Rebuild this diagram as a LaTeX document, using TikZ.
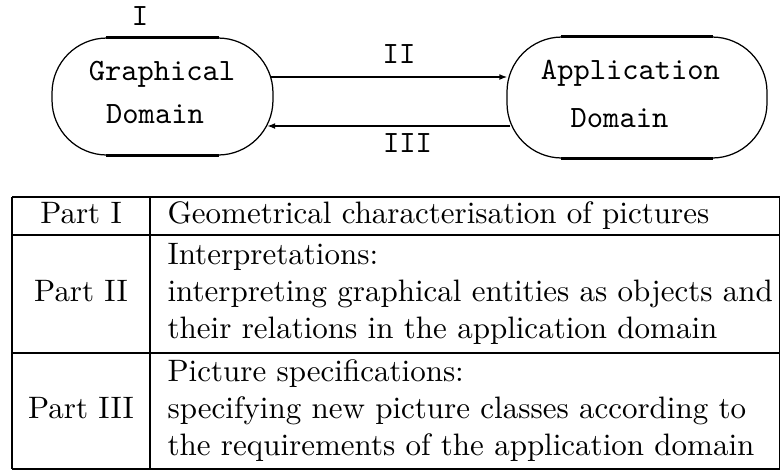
\documentclass[tikz,border=0pt]{standalone}
\usetikzlibrary{arrows.meta,calc}
\begin{document}
\begin{tikzpicture}[x=0.3226pt,y=-0.3226pt,
  domainbox/.style={draw, line width=0.4pt, rounded corners=17.74pt, inner sep=0pt},
  flatedge/.style={line width=0.75pt},
  ttlabel/.style={font=\ttfamily, inner sep=0pt, anchor=base},
  flow/.style={line width=0.45pt, -{Latex[length=2.6pt,width=1.9pt]}},
  rule/.style={line width=0.45pt},
  heavyrule/.style={line width=0.75pt},
  cell/.style={inner sep=0pt, anchor=base west},
  partcell/.style={inner sep=0pt, anchor=base}]
\useasboundingbox (0,0) rectangle (780,470);

% the two domains
\node[domainbox, minimum width=71.29pt, minimum height=37.74pt] (gbox) at (162.5,96.5) {};
\node[domainbox, minimum width=83.88pt, minimum height=39.03pt] (abox) at (637,97.5) {};
\foreach \b in {gbox,abox}{
  \draw[flatedge] ($(\b.north west)+(55,0)$) -- ($(\b.north east)+(-55,0)$);
  \draw[flatedge] ($(\b.south west)+(55,0)$) -- ($(\b.south east)+(-55,0)$);
}
\node[ttlabel] (gname1) at (162,80) {Graphical};
\node[ttlabel] (gname2) at (155,123) {Domain};
\node[ttlabel] (aname1) at (630.5,79) {Application};
\node[ttlabel] (aname2) at (619.5,127) {Domain};

% part numbers
\node[ttlabel] (lab1) at (140,25) {I};
\node[ttlabel] (lab2) at (399,63) {II};
\node[ttlabel] (lab3) at (407.5,152) {III};

% mappings between the domains
\draw[flow] ($(gbox.east)+(-2.4,-19.5)$) -- ($(abox.west)+(1,-20.5)$);
\draw[flow] ($(abox.west)+(4,28.5)$) -- ($(gbox.east)+(-6.5,29.5)$);

% table of parts
\draw[line width=0.55pt] (12,197) -- (780,197);
\draw[heavyrule] (12,235) -- (780,235);
\draw[rule] (12,353) -- (780,353);
\draw[rule] (12,469) -- (780,469);
\draw[rule] (12,197) -- (12,469);
\draw[rule] (150,197) -- (150,469);
\draw[rule] (779.6,197) -- (779.6,469);

\node[partcell] (p1) at (81,223.5) {Part I};
\node[cell] (d1) at (167,223.5) {Geometrical characterisation of pictures};

\node[partcell] (p2) at (81,301.5) {Part II};
\node[cell] (d2a) at (167,264.5) {Interpretations:};
\node[cell] (d2b) at (167,301.5) {interpreting graphical entities as objects and};
\node[cell] (d2c) at (167,338.5) {their relations in the application domain};

\node[partcell] (p3) at (81,418) {Part III};
\node[cell] (d3a) at (167,381) {Picture specifications:};
\node[cell] (d3b) at (167,418) {specifying new picture classes according to};
\node[cell] (d3c) at (167,455) {the requirements of the application domain};
\end{tikzpicture}
\end{document}
